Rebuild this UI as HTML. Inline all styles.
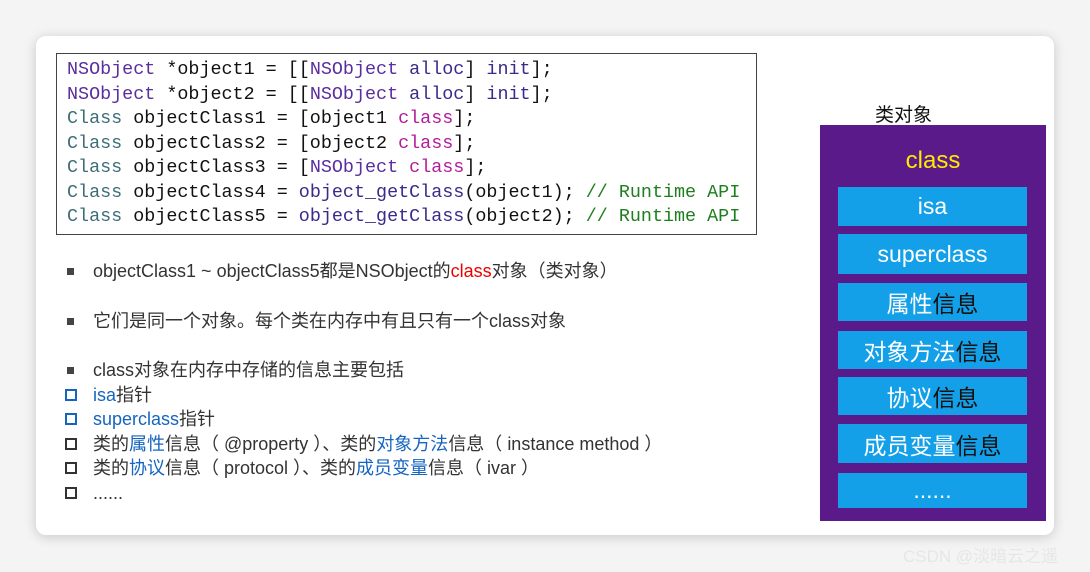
<!DOCTYPE html>
<html><head><meta charset="utf-8"><style>
*{margin:0;padding:0;box-sizing:border-box}
body{width:1090px;height:572px;background:#f4f4f4;position:relative;overflow:hidden;font-family:"Liberation Sans","Noto Sans CJK SC",sans-serif}
.card{position:absolute;left:36px;top:36px;width:1018px;height:499px;background:#fff;border-radius:10px;box-shadow:0 2px 12px rgba(0,0,0,.18)}
.code{position:absolute;left:56px;top:53px;width:701px;height:182px;border:1px solid #444;font-family:"Liberation Mono",monospace;font-size:18.4px;color:#111;padding:4px 0 0 10px}
.code div{height:24.5px;line-height:24.5px;white-space:pre}
.p{color:#5b2d9e}.t{color:#3d6e78}.m{color:#b21d9b}.g{color:#1f7f1f}.d{color:#3b2a8a}
.li{position:absolute;left:93px;font-size:18px;color:#333;white-space:nowrap;line-height:20px}
.b{position:absolute;left:67px;width:7px;height:7px;background:#444}
.sq{position:absolute;left:65px;width:12px;height:12px;border:2px solid #333}
.sq.bl{border-color:#1565c0}
.bl2{color:#1565c0}.r{color:#e00}
.pur{position:absolute;left:820px;top:125px;width:226px;height:396px;background:#5a1a8a}
.bx{position:absolute;left:838px;width:189px;background:#13a0e8;color:#fff;font-size:23px;text-align:center;display:flex;align-items:center;justify-content:center}
.k{color:#111}
</style></head><body>
<div class="card"></div>
<div class="code">
<div><span class="p">NSObject</span> *object1 = [[<span class="p">NSObject</span> <span class="d">alloc</span>] <span class="d">init</span>];</div>
<div><span class="p">NSObject</span> *object2 = [[<span class="p">NSObject</span> <span class="d">alloc</span>] <span class="d">init</span>];</div>
<div><span class="t">Class</span> objectClass1 = [object1 <span class="m">class</span>];</div>
<div><span class="t">Class</span> objectClass2 = [object2 <span class="m">class</span>];</div>
<div><span class="t">Class</span> objectClass3 = [<span class="p">NSObject</span> <span class="m">class</span>];</div>
<div><span class="t">Class</span> objectClass4 = <span class="d">object_getClass</span>(object1); <span class="g">// Runtime API</span></div>
<div><span class="t">Class</span> objectClass5 = <span class="d">object_getClass</span>(object2); <span class="g">// Runtime API</span></div>
</div>
<div class="b" style="top:268px"></div><div class="li" style="top:261px">objectClass1 ~ objectClass5都是NSObject的<span class="r">class</span>对象（类对象）</div>
<div class="b" style="top:318px"></div><div class="li" style="top:311px">它们是同一个对象。每个类在内存中有且只有一个class对象</div>
<div class="b" style="top:367px"></div><div class="li" style="top:360px">class对象在内存中存储的信息主要包括</div>
<div class="sq bl" style="top:389px"></div><div class="li" style="top:385px"><span class="bl2">isa</span>指针</div>
<div class="sq bl" style="top:413px"></div><div class="li" style="top:409px"><span class="bl2">superclass</span>指针</div>
<div class="sq" style="top:438px"></div><div class="li" style="top:434px">类的<span class="bl2">属性</span>信息（ @property ）、类的<span class="bl2">对象方法</span>信息（ instance method ）</div>
<div class="sq" style="top:462px"></div><div class="li" style="top:458px">类的<span class="bl2">协议</span>信息（ protocol ）、类的<span class="bl2">成员变量</span>信息（ ivar ）</div>
<div class="sq" style="top:487px"></div><div class="li" style="top:483px">......</div>
<div style="position:absolute;left:875px;top:100px;font-size:19px;color:#111">类对象</div>
<div class="pur"></div>
<div style="position:absolute;left:820px;width:226px;top:147px;text-align:center;color:#ffea00;font-size:24px">class</div>
<div class="bx" style="top:187px;height:39px">isa</div>
<div class="bx" style="top:234px;height:40px">superclass</div>
<div class="bx" style="top:283px;height:38px">属性<span class="k">信息</span></div>
<div class="bx" style="top:331px;height:38px">对象方法<span class="k">信息</span></div>
<div class="bx" style="top:377px;height:38px">协议<span class="k">信息</span></div>
<div class="bx" style="top:424px;height:39px">成员变量<span class="k">信息</span></div>
<div class="bx" style="top:473px;height:35px">......</div>
<div style="position:absolute;left:903px;top:542px;font-size:17px;color:#e6e6e6">CSDN @淡暗云之遥</div>
</body></html>
